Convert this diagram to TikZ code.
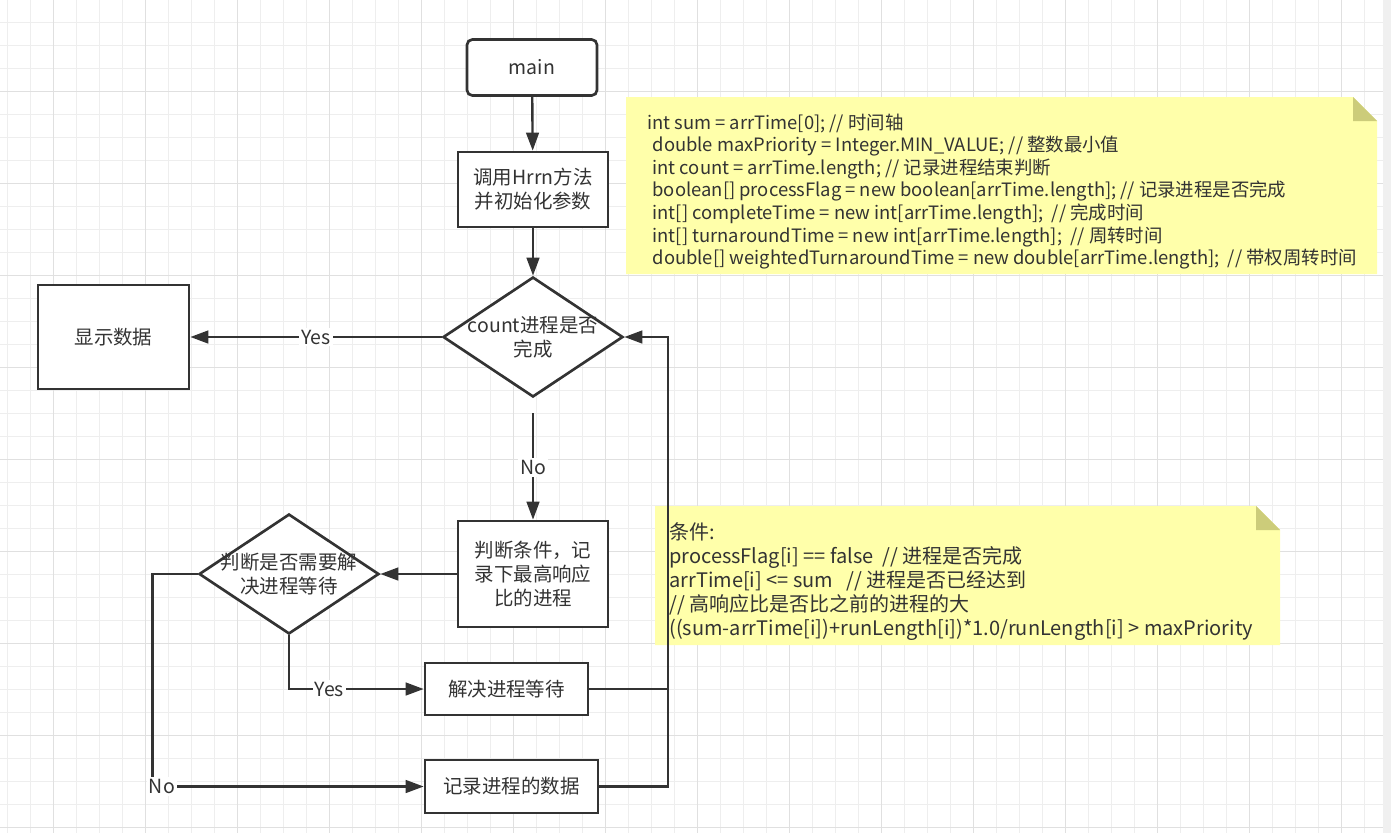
\documentclass[tikz,border=0pt]{standalone}
\usepackage{fontspec}
\setmainfont{Noto Sans CJK SC}
\definecolor{inkgray}{RGB}{51,51,51}
\definecolor{noteyellow}{RGB}{255,255,170}
\definecolor{notefold}{RGB}{204,204,122}
\definecolor{gridminor}{RGB}{238,238,238}
\definecolor{gridmajor}{RGB}{224,224,224}
\definecolor{edgestrip}{RGB}{240,240,240}
\usetikzlibrary{positioning,shapes.geometric,arrows.meta,calc}
\newcommand\flowfont{\fontsize{14.6pt}{18pt}\selectfont}
\newcommand\notefont{\fontsize{13.8pt}{16.9pt}\selectfont}
\newcommand\condfont{\fontsize{15pt}{18pt}\selectfont}

\begin{document}
\begin{tikzpicture}[x=0.75pt,y=-0.75pt,
    stepbox/.style={draw=inkgray,line width=2pt,fill=white,align=center,text=inkgray,font=\flowfont},
    startbox/.style={stepbox,rounded corners=4pt},
    decision/.style={diamond,draw=inkgray,line width=2pt,fill=white,minimum width=135pt,minimum height=90pt,inner sep=0pt},
    flowline/.style={draw=inkgray,line width=1.8pt,-{Triangle[length=13.5pt,width=9.5pt]}},
    edgelabel/.style={fill=white,text=inkgray,font=\flowfont,inner sep=1.5pt},
    notetext/.style={anchor=west,align=left,inner sep=0pt,text=inkgray}]
    \useasboundingbox (0,0) rectangle (1391,833);
    % grid paper
    \fill[edgestrip] (1383,0) rectangle (1391,833);
    \foreach \gx in {0,...,59}
        \draw[gridminor,line width=0.75pt] ({7.3+23*\gx},0) -- ({7.3+23*\gx},833);
    \foreach \gy in {0,...,35}
        \draw[gridminor,line width=0.75pt] (0,{22.3+23*\gy}) -- (1383,{22.3+23*\gy});
    \foreach \gx in {0,...,14}
        \draw[gridmajor,line width=0.75pt] ({53.3+92*\gx},0) -- ({53.3+92*\gx},833);
    \foreach \gy in {0,...,8}
        \draw[gridmajor,line width=0.75pt] (0,{91.3+92*\gy}) -- (1383,{91.3+92*\gy});

    % notes
    \fill[noteyellow] (626,97) -- (1353,97) -- (1377,121) -- (1377,274) -- (626,274) -- cycle;
    \fill[notefold] (1353,97) -- (1353,121) -- (1377,121) -- cycle;
    \node[notetext,font=\notefont] (vars) at (647,191.5) {int sum = arrTime[0]; // 时间轴\\
        \hspace*{4pt}double maxPriority = Integer.MIN\_VALUE; // 整数最小值\\
        \hspace*{4pt}int count = arrTime.length; // 记录进程结束判断\\
        \hspace*{4pt}boolean[] processFlag = new boolean[arrTime.length]; // 记录进程是否完成\\
        \hspace*{4pt}int[] completeTime = new int[arrTime.length];~ // 完成时间\\
        \hspace*{4pt}int[] turnaroundTime = new int[arrTime.length];~ // 周转时间\\
        \hspace*{4pt}double[] weightedTurnaroundTime = new double[arrTime.length];~ // 带权周转时间};
    \fill[noteyellow] (655,506) -- (1256,506) -- (1280,530) -- (1280,645) -- (655,645) -- cycle;
    \fill[notefold] (1256,506) -- (1256,530) -- (1280,530) -- cycle;
    \node[notetext,font=\condfont] (cond) at (669,582) {条件:\\
        processFlag[i] == false~ // 进程是否完成\\
        arrTime[i] <= sum~~ // 进程是否已经达到\\
        // 高响应比是否比之前的进程的大\\
        ((sum-arrTime[i])+runLength[i])*1.0/runLength[i] > maxPriority};

    % flow chart
    \node[startbox,minimum width=97.5pt,minimum height=42pt] (main) at (532,67.5) {main};
    \node[stepbox,minimum width=112.5pt,minimum height=56.25pt] (init) at (533,189.5) {调用Hrrn方法\\并初始化参数};
    \node[decision,label={[align=center,font=\flowfont,text=inkgray]center:count进程是否\\完成}] (done) at (533,337) {};
    \node[stepbox,minimum width=113.25pt,minimum height=78pt] (show) at (113.5,337) {显示数据};
    \node[stepbox,minimum width=112.5pt,minimum height=79.5pt] (judge) at (533,574) {判断条件，记\\录下最高响应\\比的进程};
    \node[decision,label={[align=center,font=\flowfont,text=inkgray]center:判断是否需要解\\决进程等待}] (wait) at (289,574) {};
    \node[stepbox,minimum width=122.25pt,minimum height=39pt] (resolve) at (506.5,689) {解决进程等待};
    \node[stepbox,minimum width=129.75pt,minimum height=39.75pt] (record) at (511.5,786.5) {记录进程的数据};
    \coordinate (loop) at (668,337);

    \draw[flowline] (main) -- (init);
    \draw[flowline] (init) -- (done);
    \draw[flowline] (done) -- node[edgelabel] {Yes} (show);
    \draw[flowline,shorten <=11.25pt] (done) -- node[edgelabel,pos=0.57] {No} (judge);
    \draw[flowline] (judge) -- (wait);
    \draw[flowline] (wait.south) |- node[edgelabel,pos=0.65] {Yes} (resolve.west);
    \draw[flowline] (resolve.east) -| (loop) -- (done.east);
    \draw[draw=inkgray,line width=1.8pt] (record.east) -| (loop);
    \draw[flowline] (wait.west) -- ++(-45,0) |- node[edgelabel,pos=0.517] {No} (record.west);
\end{tikzpicture}
\end{document}
